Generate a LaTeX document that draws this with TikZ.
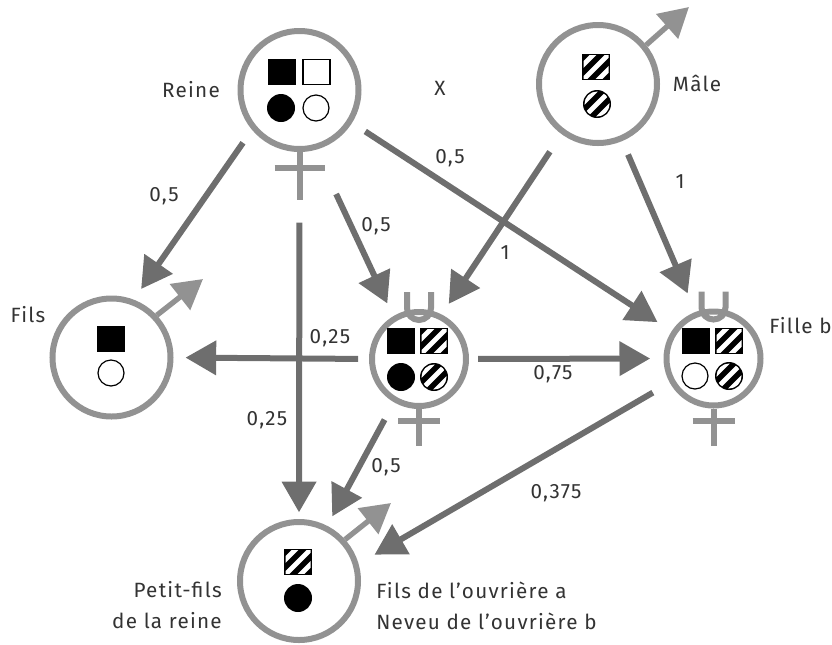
\documentclass[tikz,border=0pt]{standalone}
\usepackage{fontspec}
\setmainfont[LetterSpace=6]{Fira Sans}
\usetikzlibrary{arrows.meta}
\definecolor{symbgray}{HTML}{929292}
\definecolor{linkgray}{HTML}{6E6E6E}
\tikzset{
	sexe/.style={circle,draw=symbgray,line width=4.5pt,inner sep=0pt},
	grand/.style={sexe,minimum size=88.5pt},
	petit/.style={sexe,minimum size=70.5pt},
	symb/.style={draw=symbgray,line width=4.5pt},
	male/.style={symb,line width=4pt,-{Triangle[length=22pt,width=24pt]}},
	link/.style={draw=linkgray,line width=4.5pt,-{Triangle[length=23pt,width=25pt,color=linkgray]}},
	lab/.style={font=\fontsize{15.5}{18}\selectfont,inner sep=0pt,text=black!80},
	sq/.style={draw=black,line width=0.9pt},
	stripe/.style={white,line width=3.6pt}
}
\def\hatchsq(#1,#2){
	\fill (#1-14,#2-13) rectangle (#1+14,#2+13);
	\begin{scope}
		\clip (#1-12.5,#2-11.5) rectangle (#1+12.5,#2+11.5);
		\foreach \s in {-15,0,15} \draw[stripe] (#1+\s-20,#2+20) -- (#1+\s+20,#2-20);
	\end{scope}
}
\def\hatchci(#1,#2){
	\fill (#1,#2) circle (14);
	\begin{scope}
		\clip (#1,#2) circle (12.5);
		\foreach \s in {-15,0,15} \draw[stripe] (#1+\s-20,#2+20) -- (#1+\s+20,#2-20);
	\end{scope}
}
\def\blacksq(#1,#2){\fill (#1-14,#2-13) rectangle (#1+14,#2+13);}
\def\whitesq(#1,#2){\draw[sq] (#1-13.5,#2-12.5) rectangle (#1+13.5,#2+12.5);}
\def\blackci(#1,#2){\fill (#1,#2) circle (14);}
\def\whiteci(#1,#2){\draw[sq] (#1,#2) circle (13);}
\def\femelle#1#2#3#4{
	\draw[symb] (#1.south) -- ++(0,#2);
	\draw[symb] (#1.south) ++(-#4,#3) -- ++(2*#4,0);
}
\def\ouvriere#1{
	\draw[symb] (#1.north) ++(-12,-17) -- ++(0,16) arc (180:0:12) -- ++(0,-16);
}
\begin{document}
\begin{tikzpicture}[x=0.75pt,y=-0.75pt]
	\useasboundingbox (0,0) rectangle (832,644);

	% individus
	\node[grand] (reine) at (299.5,90) {};
	\node[grand] (pere) at (598,84) {};
	\node[grand] (fils) at (111.5,357.5) {};
	\node[petit] (ouvra) at (419,359) {};
	\node[petit] (ouvrb) at (713.5,358.5) {};
	\node[grand] (neveu) at (299,581) {};

	% signes
	\femelle{reine}{48}{16}{25}
	\femelle{ouvra}{37}{12}{21}
	\femelle{ouvrb}{37}{12}{21}
	\ouvriere{ouvra}
	\ouvriere{ouvrb}
	\coordinate (perem) at (689,7);
	\coordinate (filsm) at (203,279);
	\coordinate (neveum) at (391,503);
	\draw[male] (pere.39) -- (perem);
	\draw[male] (fils.43) -- (filsm);
	\draw[male] (neveu.42) -- (neveum);

	% genes
	\blacksq(281.5,72)
	\whitesq(316.5,72)
	\blackci(281,108)
	\whiteci(316,108)

	\hatchsq(596,67)
	\hatchci(597,104)

	\blacksq(110.5,339)
	\whiteci(111,373)

	\blacksq(401,341)
	\hatchsq(434,341)
	\blackci(401,377)
	\hatchci(434,377)

	\blacksq(696,341)
	\hatchsq(729,341)
	\whiteci(695,376)
	\hatchci(729,376)

	\hatchsq(298,562)
	\blackci(298,598)

	% liens
	\draw[link,shorten <=11.8pt,shorten >=9.7pt] (reine.220) -- (fils.69);
	\draw[link,shorten <=53pt,shorten >=5pt] (reine.south) -- (neveu.north);
	\draw[link,shorten <=36.5pt,shorten >=10.5pt] (reine.-75) -- (ouvra.121);
	\draw[link,shorten <=11.8pt,shorten >=12.5pt] (reine.-32.7) -- (ouvrb.147.3);
	\draw[link,shorten <=15.8pt,shorten >=9.5pt] (pere.234.8) -- (ouvra.63.4);
	\draw[link,shorten <=11pt,shorten >=15pt] (pere.-67.8) -- (ouvrb.111.8);
	\draw[link,shorten <=8.2pt,shorten >=9pt] (ouvra.180) -- (fils.east);
	\draw[link,shorten <=6.8pt,shorten >=10pt] (ouvra.east) -- (ouvrb.west);
	\draw[link,shorten <=14.8pt,shorten >=8pt] (ouvra.240.9) -- (neveu.63);
	\draw[link,shorten <=14.7pt,shorten >=13.8pt] (ouvrb.209.7) -- (neveu.16.6);

	% textes
	\node[lab] (t1) at (191,90) {Reine};
	\node[lab] (t2) at (440,88) {X};
	\node[lab] (t3) at (697,83) {Mâle};
	\node[lab] (t4) at (28,315) {Fils};
	\node[lab,anchor=east] (t5) at (832,326) {Fille b};
	\node[lab] (t6) at (164,196) {0,5};
	\node[lab] (t7) at (450,158) {0,5};
	\node[lab] (t8) at (376,226) {0,5};
	\node[lab] (t9) at (505,253) {1};
	\node[lab] (t10) at (680,182) {1};
	\node[lab] (t11) at (330,338) {0,25};
	\node[lab] (t12) at (267,420) {0,25};
	\node[lab] (t13) at (553,374) {0,75};
	\node[lab] (t14) at (386,467) {0,5};
	\node[lab] (t15) at (556,493) {0,375};
	\node[lab,anchor=east] (t16) at (222,590) {Petit-fils};
	\node[lab,anchor=east] (t17) at (222,621) {de la reine};
	\node[lab,anchor=west] (t18) at (376,590) {Fils de l’ouvrière a};
	\node[lab,anchor=west] (t19) at (376,621) {Neveu de l’ouvrière b};
\end{tikzpicture}
\end{document}
